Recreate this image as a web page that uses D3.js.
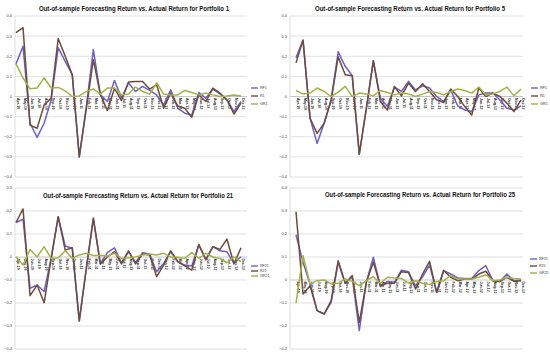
<!DOCTYPE html>
<meta charset="utf-8">
<style>
body { margin: 0; background: #fff; }
svg { font-family: "Liberation Sans", Arial, sans-serif; }
.grid line { stroke: #d9d9d9; stroke-width: 0.8; }
.ylab { font-size: 4px; fill: #444; text-anchor: end; }
.xlab { font-size: 3.5px; fill: #222; font-weight: bold; }
.title { font-size: 7px; font-weight: bold; fill: #111; text-anchor: middle; }
.leg { font-size: 3.6px; fill: #333; }
</style>
<svg width="550" height="356"></svg>
<script src="https://d3js.org/d3.v7.min.js"></script>
<script>

var months = ["Apr-10","May-10","Jun-10","Jul-10","Aug-10","Sep-10","Oct-10","Nov-10","Dec-10",
  "Jan-11","Feb-11","Mar-11","Apr-11","May-11","Jun-11","Jul-11","Aug-11","Sep-11","Oct-11",
  "Nov-11","Dec-11","Jan-12","Feb-12","Mar-12","Apr-12","May-12","Jun-12","Jul-12","Aug-12",
  "Sep-12","Oct-12","Nov-12","Dec-12"];

var yTicks = [0.4, 0.3, 0.2, 0.1, 0, -0.1, -0.2, -0.3, -0.4];

// portfolio 1
var rf1 = [0.162,0.25,-0.133,-0.203,-0.133,-0.017,0.242,0.175,0.108,-0.3,-0.05,0.233,0.008,-0.025,0.08,-0.008,0.067,0.025,0.05,0.03,0.008,-0.042,0.033,-0.058,-0.083,-0.092,0.02,-0.008,0.037,0.013,-0.017,-0.075,-0.025];
var r1  = [0.317,0.342,-0.142,-0.158,-0.042,-0.008,0.288,0.2,0.108,-0.3,-0.06,0.183,0.01,-0.07,0.04,-0.02,0.072,0.075,0.075,0.037,0.058,-0.058,0.017,-0.047,-0.058,-0.103,0.008,-0.025,0.042,0.017,-0.017,-0.087,-0.033];
var gr1 = [0.162,0.092,0.038,0.042,0.092,0.042,0.045,0.028,0,0.003,0.025,0.038,0.012,0.042,0.042,0.008,0.012,0.047,0.025,0.012,0.067,0.012,0.008,0.008,0.03,0.02,0.008,0.017,0.008,0,0.003,0.008,0.003];

// portfolio 5
var rf5 = [0.192,0.28,-0.108,-0.233,-0.133,-0.017,0.222,0.15,0.103,-0.287,-0.06,0.178,-0.008,-0.05,0.047,0.025,0.075,0.033,0.053,0.042,0,-0.025,0.033,-0.047,-0.067,-0.075,0.008,0.017,0.017,-0.017,-0.058,-0.067,-0.047];
var r5  = [0.167,0.28,-0.108,-0.183,-0.133,-0.017,0.197,0.108,0.103,-0.287,-0.06,0.178,-0.025,-0.067,0.05,0.003,0.067,0.025,0.063,0.025,-0.017,-0.03,0.037,0,-0.05,-0.092,0.042,0,0.017,0,-0.033,-0.075,-0.017];
var gr5 = [0.03,0.012,0.017,0.042,0.025,0,0.022,0.05,0,0.017,0.013,0.003,0.03,0.02,0.008,0.017,0.013,0,0.012,0.025,0.02,0.008,0.025,0.037,0.03,0.017,0.047,0.008,0.013,0.025,0.047,0.003,0.037];

// portfolio 21
var rf21 = [0.15,0.164,-0.136,-0.122,-0.15,-0.006,0.175,0.048,0.038,-0.278,-0.05,0.168,-0.03,0.019,0.04,-0.025,0.023,-0.025,0.019,0.013,-0.064,-0.028,0.023,-0.02,-0.035,-0.039,0.052,-0.01,0.045,0.027,0.023,-0.028,0.001];
var r21  = [0.15,0.209,-0.168,-0.122,-0.199,-0.006,0.175,0.03,0.04,-0.278,-0.05,0.168,-0.03,0,0.023,-0.03,0.027,-0.03,0.013,0.009,-0.085,-0.035,0.027,-0.02,-0.039,-0.057,0.055,-0.013,0.045,0.033,0.078,-0.03,0.04];
var gr21 = [0.001,-0.035,0.033,0,0.045,-0.006,-0.003,0.027,-0.006,0.009,0.016,0.006,0.006,0.004,0.016,-0.006,-0.003,0,0.009,0.013,0.009,0.016,0,-0.001,-0.006,0.019,-0.006,0.016,0,-0.006,-0.025,0,-0.02];

// portfolio 25
var rf25 = [0.197,0.077,-0.017,-0.133,-0.148,-0.097,0.077,-0.014,0.014,-0.22,-0.01,0.099,-0.029,-0.006,-0.01,0.043,0.036,-0.025,0.014,0.065,-0.054,0.041,0.026,0.009,0.007,0.007,0.041,0.062,-0.003,-0.006,0.026,-0.003,0];
var r25  = [0.297,-0.061,-0.025,-0.133,-0.148,-0.09,0.084,-0.014,0.019,-0.184,-0.01,0.077,-0.025,-0.014,-0.014,0.036,0.033,-0.039,0.026,0.081,-0.054,0.041,0.012,-0.003,0.004,0.004,0.026,0.038,-0.003,-0.006,0.012,-0.006,-0.003];
var gr25 = [-0.101,0.106,-0.017,-0.003,0,-0.017,-0.014,0.004,-0.006,-0.025,-0.003,0.014,-0.014,0.012,0.009,0.007,-0.014,-0.003,-0.014,-0.02,-0.006,-0.003,0.019,0.004,0.004,0.004,0.012,0.023,-0.003,0,0.012,0.007,0.004];

var colors = ["#6c60c8", "#6e4b3a", "#a3b246"];

var panels = [
  { title: "Out-of-sample Forecasting Return vs. Actual Return for Portfolio 1",
    names: ["RF1", "R1", "GR1"], series: [rf1, r1, gr1],
    gx: [15, 247], px: [16, 241], dom: [-0.4, 0.4], py: [177, 16],
    tx: 134, ty: 11, lx: 251, ly: [88, 96, 104] },
  { title: "Out-of-sample Forecasting Return vs. Actual Return for Portfolio 5",
    names: ["RF5", "R5", "GR5"], series: [rf5, r5, gr5],
    gx: [290, 523], px: [296, 521], dom: [-0.4, 0.4], py: [177, 16],
    tx: 410, ty: 11, lx: 531, ly: [88, 96, 104] },
  { title: "Out-of-sample Forecasting Return vs. Actual Return for Portfolio 21",
    names: ["RF21", "R21", "GR21"], series: [rf21, r21, gr21],
    gx: [15, 247], px: [16, 241], dom: [-0.4, 0.3], py: [349, 188],
    tx: 138, ty: 198, lx: 251, ly: [266, 271, 276] },
  { title: "Out-of-sample Forecasting Return vs. Actual Return for Portfolio 25",
    names: ["RF25", "R25", "GR25"], series: [rf25, r25, gr25],
    gx: [290, 523], px: [296, 521], dom: [-0.3, 0.4], py: [349, 188],
    tx: 420, ty: 197, lx: 530, ly: [259, 266, 273] }
];

var svg = d3.select("svg");

panels.forEach(function(p) {
  var x = d3.scalePoint().domain(months).range(p.px);
  var y = d3.scaleLinear().domain(p.dom).range(p.py);
  var ticks = yTicks.filter(function(t) { return t >= p.dom[0] - 1e-9 && t <= p.dom[1] + 1e-9; });
  var g = svg.append("g");

  g.append("g").attr("class", "grid")
    .selectAll("line").data(ticks).enter().append("line")
      .attr("x1", p.gx[0]).attr("x2", p.gx[1])
      .attr("y1", function(d) { return y(d); })
      .attr("y2", function(d) { return y(d); })
      .style("stroke", function(d) { return d === 0 ? "#b8b8b8" : null; });

  g.append("line")
      .attr("x1", p.gx[0]).attr("x2", p.gx[0])
      .attr("y1", p.py[0]).attr("y2", p.py[1])
      .attr("stroke", "#c8c8c8").attr("stroke-width", 0.6);

  g.selectAll(".ylab").data(ticks).enter().append("text")
      .attr("class", "ylab")
      .attr("x", p.gx[0] - 3)
      .attr("y", function(d) { return y(d) + 1.4; })
      .text(function(d) { return d === 0 ? "0" : d3.format(".1f")(d); });

  g.selectAll(".xlab").data(months).enter().append("text")
      .attr("class", "xlab")
      .attr("transform", function(d) {
        return "translate(" + (x(d) + 1.2) + "," + (y(0) + 1.5) + ") rotate(90)";
      })
      .text(function(d) { return d; });

  var line = d3.line()
      .x(function(d, i) { return x(months[i]); })
      .y(function(d) { return y(d); });

  p.series.forEach(function(s, k) {
    g.append("path")
        .datum(s)
        .attr("fill", "none")
        .attr("stroke", colors[k])
        .attr("stroke-width", 1.5)
        .attr("stroke-linejoin", "round")
        .attr("d", line);
  });

  g.append("text")
      .attr("class", "title")
      .attr("x", p.tx).attr("y", p.ty)
      .attr("textLength", 190)
      .attr("lengthAdjust", "spacingAndGlyphs")
      .text(p.title);

  p.names.forEach(function(n, k) {
    g.append("line")
        .attr("x1", p.lx).attr("x2", p.lx + 7)
        .attr("y1", p.ly[k]).attr("y2", p.ly[k])
        .attr("stroke", colors[k]).attr("stroke-width", 1.4);
    g.append("text")
        .attr("class", "leg")
        .attr("x", p.lx + 9).attr("y", p.ly[k] + 1.2)
        .text(n);
  });
});

</script>
